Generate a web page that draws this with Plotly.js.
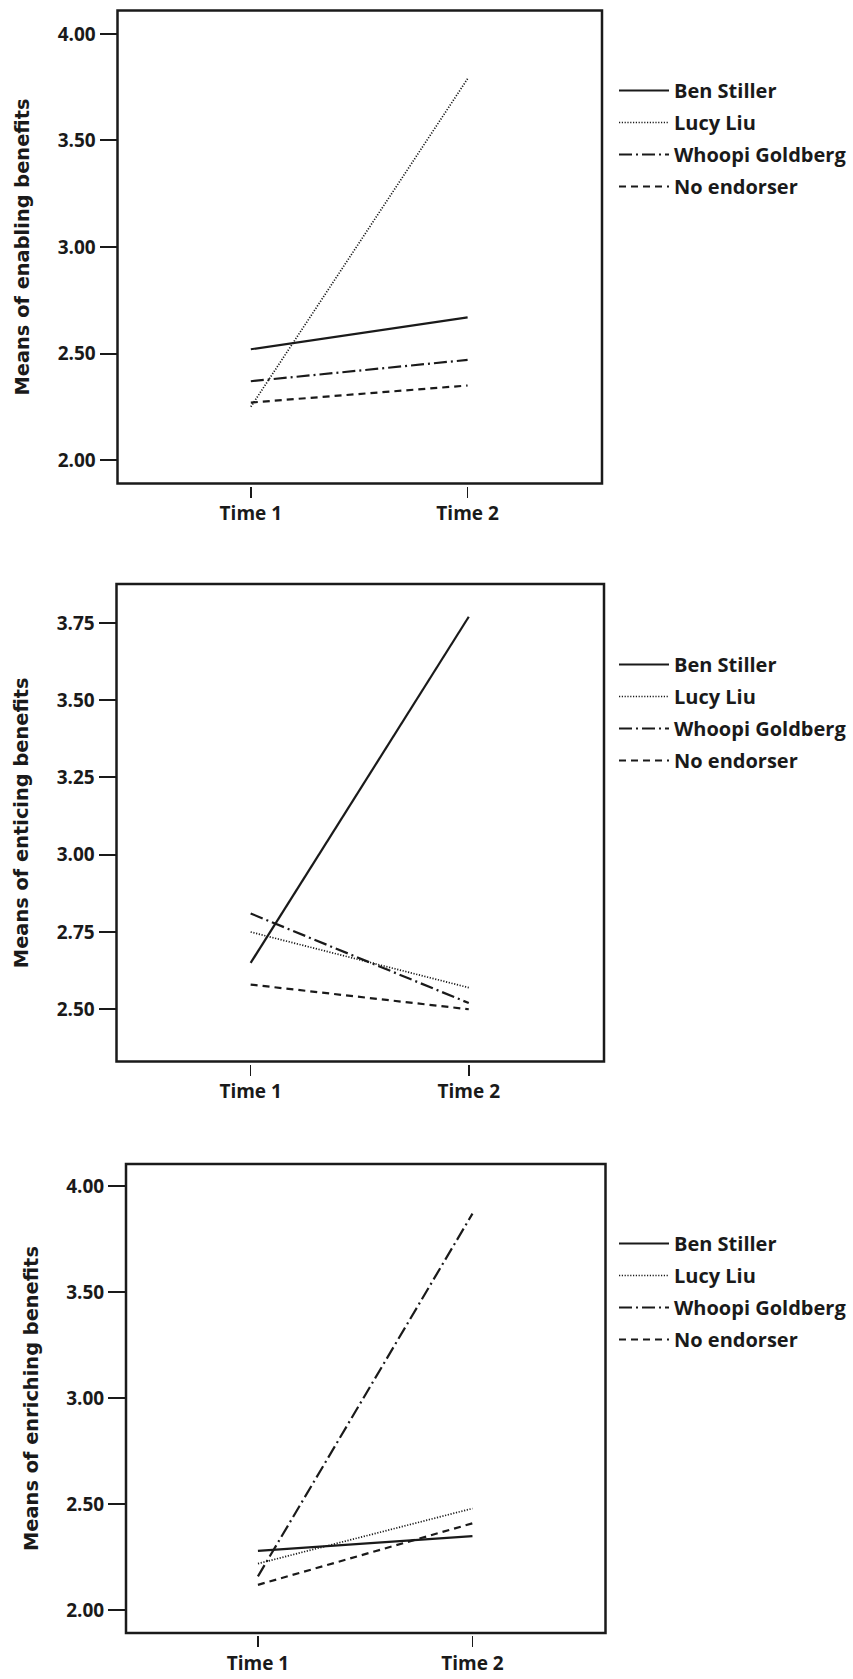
<!DOCTYPE html>
<html>
<head>
<meta charset="utf-8">
<script src="https://cdn.plot.ly/plotly-3.0.1.min.js"></script>
<style>html,body{margin:0;padding:0;background:#fff;}#chart{width:853px;height:1679px;}</style>
</head>
<body>
<div id="chart"></div>
<script>
// ---- data ----
const times = ["Time 1", "Time 2"];
const endorsers = ["Ben Stiller", "Lucy Liu", "Whoopi Goldberg", "No endorser"];

const enablingBen = [2.52, 2.67];
const enablingLucy = [2.25, 3.79];
const enablingWhoopi = [2.37, 2.47];
const enablingNone = [2.27, 2.35];

const enticingBen = [2.65, 3.77];
const enticingLucy = [2.75, 2.57];
const enticingWhoopi = [2.81, 2.52];
const enticingNone = [2.58, 2.50];

const enrichingBen = [2.28, 2.35];
const enrichingLucy = [2.22, 2.48];
const enrichingWhoopi = [2.16, 3.87];
const enrichingNone = [2.12, 2.41];

const yTitles = ["Means of enabling benefits", "Means of enticing benefits", "Means of enriching benefits"];
const yTicks1 = [2.0, 2.5, 3.0, 3.5, 4.0];
const yTicks2 = [2.50, 2.75, 3.00, 3.25, 3.50, 3.75];
const yTicks3 = [2.0, 2.5, 3.0, 3.5, 4.0];

// ---- styling ----
const W = 853, H = 1679;
const fx = p => p / W;
const fy = p => 1 - p / H;
const ink = "#1a1a1a";
const dashes = ["solid", "1.2px,1.6px", "13px,4px,2px,4px", "7px,5px"];
const widths = [2.2, 1.7, 2.2, 2.2];

const panels = [
  {series: [enablingBen, enablingLucy, enablingWhoopi, enablingNone], ticks: yTicks1,
   box: [117.5, 602, 10.5, 483.5], yr: [1.89, 4.11], leg: 71},
  {series: [enticingBen, enticingLucy, enticingWhoopi, enticingNone], ticks: yTicks2,
   box: [116.5, 604, 584, 1061.5], yr: [2.331, 3.876], leg: 645},
  {series: [enrichingBen, enrichingLucy, enrichingWhoopi, enrichingNone], ticks: yTicks3,
   box: [126, 605.5, 1164, 1633], yr: [1.893, 4.104], leg: 1224}
];

const data = [];
const layout = {
  width: W, height: H,
  margin: {l: 0, r: 0, t: 0, b: 0},
  paper_bgcolor: "#fff", plot_bgcolor: "#fff",
  showlegend: true,
  font: {family: "Open Sans, sans-serif", color: ink},
  shapes: []
};

panels.forEach((p, i) => {
  const n = i + 1;
  const xa = n === 1 ? "x" : "x" + n;
  const ya = n === 1 ? "y" : "y" + n;
  const lg = n === 1 ? "legend" : "legend" + n;
  p.series.forEach((vals, k) => {
    data.push({
      type: "scatter", mode: "lines",
      x: times, y: vals, name: endorsers[k],
      xaxis: xa, yaxis: ya, legend: lg,
      legendgroup: "g" + n + "_" + k,
      line: {color: ink, width: widths[k], dash: dashes[k]},
      hoverinfo: "skip"
    });
  });
  const [x0, x1, yt, yb] = p.box;
  layout["xaxis" + (n === 1 ? "" : n)] = {
    domain: [fx(x0), fx(x1)],
    anchor: "free", position: fy(yb + 2),
    type: "category", range: [-0.615, 1.62],
    showgrid: false, zeroline: false, showline: false,
    ticks: "outside", ticklen: 11, tickwidth: 1.5, tickcolor: ink,
    tickfont: {family: "Open Sans, sans-serif", size: 19, color: ink, weight: "bold"},
    fixedrange: true
  };
  layout["yaxis" + (n === 1 ? "" : n)] = {
    domain: [fy(yb), fy(yt)],
    anchor: xa, range: p.yr,
    tickvals: p.ticks, tickformat: ".2f",
    showgrid: false, zeroline: false, showline: false,
    ticks: "outside", ticklen: 17, tickwidth: 2, tickcolor: ink,
    tickfont: {family: "Open Sans, sans-serif", size: 19, color: ink, weight: "bold"},
    title: {text: yTitles[i], standoff: 22,
            font: {family: "DejaVu Sans, sans-serif", size: 19.4, color: ink, weight: "bold"}},
    fixedrange: true
  };
  layout.shapes.push({
    type: "rect", xref: xa + " domain", yref: ya + " domain",
    x0: 0, x1: 1, y0: 0, y1: 1,
    line: {color: ink, width: 2.5}, fillcolor: "rgba(0,0,0,0)", layer: "above"
  });
  layout[lg] = {
    x: fx(614), y: fy(p.leg), xanchor: "left", yanchor: "top",
    bgcolor: "rgba(0,0,0,0)", borderwidth: 0,
    traceorder: "grouped", tracegroupgap: 3,
    itemwidth: 50,
    font: {family: "Open Sans, sans-serif", size: 20, color: ink, weight: "bold"}
  };
});

Plotly.newPlot("chart", data, layout, {displayModeBar: false, staticPlot: true});
</script>
</body>
</html>
